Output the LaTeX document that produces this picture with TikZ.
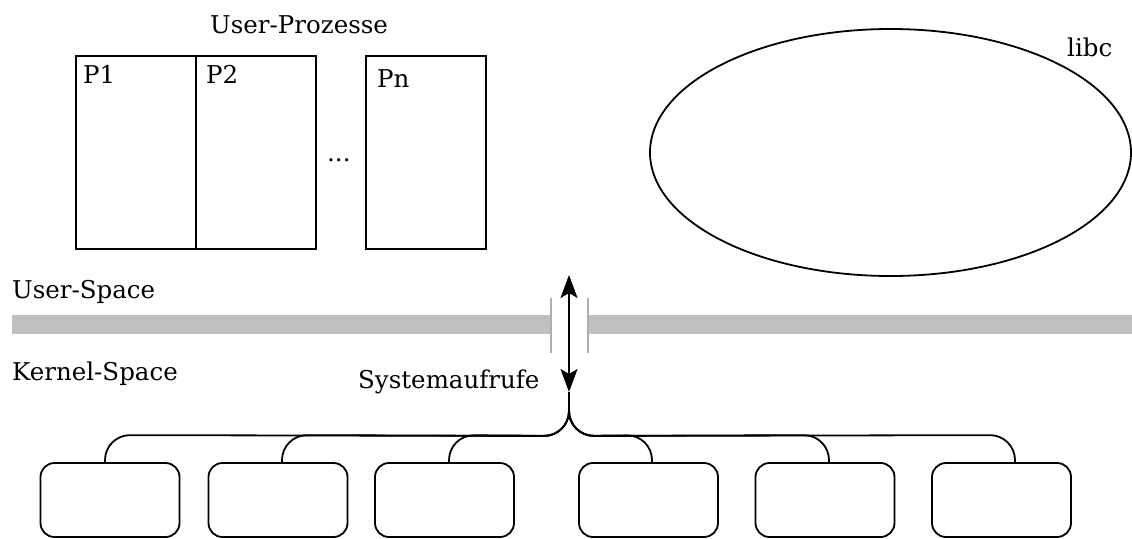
\documentclass[tikz,border=0pt]{standalone}
\usepackage{fontspec}
\setmainfont{DejaVu Serif}
\usetikzlibrary{arrows.meta,calc,shapes.geometric}
\definecolor{barcol}{RGB}{192,192,192}
\definecolor{tickcol}{RGB}{175,175,175}
\tikzset{
  lbl/.style={anchor=base west, inner sep=0pt, font=\fontsize{24.5}{28}\selectfont},
  proc/.style={draw, line width=1.8pt, minimum width=120pt, minimum height=193pt, inner sep=0pt, anchor=north west},
  kbox/.style={draw, line width=1.8pt, rounded corners=14pt, minimum width=139pt, minimum height=74pt, inner sep=0pt},
  bus/.style={line width=1.8pt, rounded corners=25pt},
  bar/.style={barcol, line width=19pt},
  tick/.style={tickcol, line width=2pt},
  sys/.style={line width=1.8pt, {Stealth[length=23pt,width=17pt,inset=5pt]}-{Stealth[length=23pt,width=17pt,inset=5pt]}}
}
\begin{document}
\begin{tikzpicture}[x=1pt,y=-1pt]
\useasboundingbox (0,0) rectangle (1132,538);
% user processes
\node[lbl] (up) at (210,33) {User-Prozesse};
\node[proc] (p1) at (75,55) {};
\node[proc] (p2) at (195,55) {};
\node[proc] (pn) at (365,55) {};
\node[lbl] (p1l) at (83,83) {P1};
\node[lbl] (p2l) at (206,83) {P2};
\node[lbl] (pnl) at (377,87) {Pn};
\node[lbl] (dots) at (327,161) {...};
% libc
\node[draw, line width=1.8pt, ellipse, minimum width=481pt, minimum height=247pt, inner sep=0pt] (libc) at (890.5,152.5) {};
\node[lbl] (libcl) at (1067,56) {libc};
% space separation
\node[lbl] (us) at (12,298) {User-Space};
\node[lbl] (ks) at (12,380) {Kernel-Space};
\coordinate (barL0) at (12,324.5);
\coordinate (barL1) at (551,324.5);
\coordinate (barR0) at (588,324.5);
\coordinate (barR1) at (1132,324.5);
\draw[bar] (barL0) -- (barL1);
\draw[bar] (barR0) -- (barR1);
\coordinate (tl0) at (551,298);
\coordinate (tl1) at (551,353);
\coordinate (tr0) at (588,298);
\coordinate (tr1) at (588,353);
\draw[tick] (tl0) -- (tl1);
\draw[tick] (tr0) -- (tr1);
% system calls
\coordinate (top) at (569,275);
\coordinate (jc) at (569,392);
\draw[sys] (top) -- (jc);
\node[lbl] (sc) at (358,388) {Systemaufrufe};
% kernel boxes
\node[kbox] (b1) at (110,500) {};
\node[kbox] (b2) at (278,500) {};
\node[kbox] (b3) at (444.5,500) {};
\node[kbox] (b4) at (648.5,500) {};
\node[kbox] (b5) at (825,500) {};
\node[kbox] (b6) at (1001.5,500) {};
\coordinate (jb) at (569,436);
\draw[bus] (jc) -- (jb) -- ($(b1.north)+(-5,-27)$) -- ($(b1.north)+(-5,0)$);
\draw[bus] (jc) -- (jb) -- ($(b2.north)+(4,-27)$) -- ($(b2.north)+(4,0)$);
\draw[bus] (jc) -- (jb) -- ($(b3.north)+(4.5,-27)$) -- ($(b3.north)+(4.5,0)$);
\draw[bus] (jc) -- (jb) -- ($(b4.north)+(3.5,-27)$) -- ($(b4.north)+(3.5,0)$);
\draw[bus] (jc) -- (jb) -- ($(b5.north)+(4,-27)$) -- ($(b5.north)+(4,0)$);
\draw[bus] (jc) -- (jb) -- ($(b6.north)+(13.5,-27)$) -- ($(b6.north)+(13.5,0)$);
\end{tikzpicture}
\end{document}
